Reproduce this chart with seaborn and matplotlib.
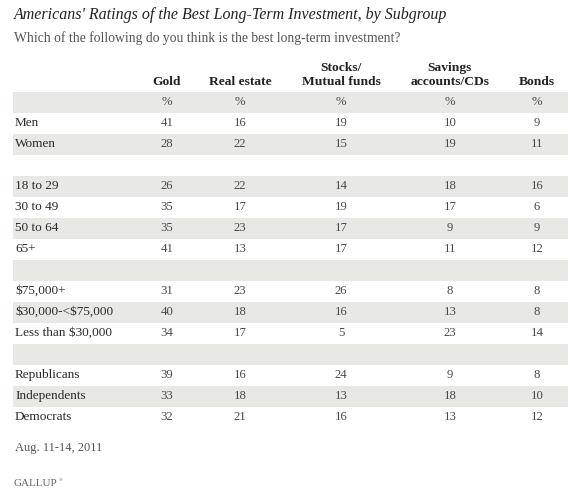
import matplotlib
matplotlib.use("Agg")
import matplotlib.pyplot as plt
import seaborn as sns

# Daten
columns = ["Gold", "Real estate", "Stocks/\nMutual funds", "Savings\naccounts/CDs", "Bonds"]
sex = ["Men", "Women"]
sex_vals = [[41, 16, 19, 10, 9], [28, 22, 15, 19, 11]]
age = ["18 to 29", "30 to 49", "50 to 64", "65+"]
age_vals = [[26, 22, 14, 18, 16], [35, 17, 19, 17, 6], [35, 23, 17, 9, 9], [41, 13, 17, 11, 12]]
income = ["$75,000+", "$30,000-<$75,000", "Less than $30,000"]
income_vals = [[31, 23, 26, 8, 8], [40, 18, 16, 13, 8], [34, 17, 5, 23, 14]]
party = ["Republicans", "Independents", "Democrats"]
party_vals = [[39, 16, 24, 9, 8], [33, 18, 13, 18, 10], [32, 21, 16, 13, 12]]

title = "Americans' Ratings of the Best Long-Term Investment, by Subgroup"
subtitle = "Which of the following do you think is the best long-term investment?"
footnote = "Aug. 11-14, 2011"

# Zeilen zusammenbauen, leere Zeilen zwischen den Gruppen
rows = [("%", ["%"] * 5)]
for i, (labels, vals) in enumerate([(sex, sex_vals), (age, age_vals),
                                    (income, income_vals), (party, party_vals)]):
    if i > 0:
        rows.append(("", [""] * 5))
    for lab, v in zip(labels, vals):
        rows.append((lab, [str(x) for x in v]))

sns.set_theme(style="white")
plt.rcParams["font.family"] = ["Liberation Serif", "DejaVu Serif"]

W, H = 577, 496
fig = plt.figure(figsize=(W / 100, H / 100), dpi=100)
ax = fig.add_axes([0, 0, 1, 1])
ax.set_xlim(0, W)
ax.set_ylim(H, 0)
ax.axis("off")

col_x = [167, 240, 341, 450, 537]
left, right = 13, 568
top = 102
pitch = 21
band = "#e8e8e4"

ax.text(14, 15, title, fontsize=11.5, style="italic", color="#222222", va="center")
ax.text(14, 38, subtitle, fontsize=9.8, color="#555555", va="center")

for x, c in zip(col_x, columns):
    ax.text(x, 85, c, fontsize=9.7, fontweight="bold", color="#222222",
            ha="center", va="baseline", linespacing=1.25)

for i, (lab, vals) in enumerate(rows):
    y = top + i * pitch
    if i % 2 == 0:
        ax.axhspan(y - pitch / 2, y + pitch / 2, xmin=left / W, xmax=right / W, color=band, lw=0)
    if i > 0:
        ax.text(15, y, lab.replace("$", r"\$"), fontsize=9.5, color="#2a2a2a", va="center")
    for x, v in zip(col_x, vals):
        ax.text(x, y, v, fontsize=9.2, color="#4a4a4a", ha="center", va="center")

ax.text(15, 448, footnote, fontsize=9.0, color="#555555", va="center")
ax.text(13, 483, "GALLUP", fontsize=8.0, color="#666666", va="center")
ax.text(58.5, 480, "\u00ae", fontsize=3.5, color="#666666", va="center")

fig.savefig("out.png", dpi=100)
